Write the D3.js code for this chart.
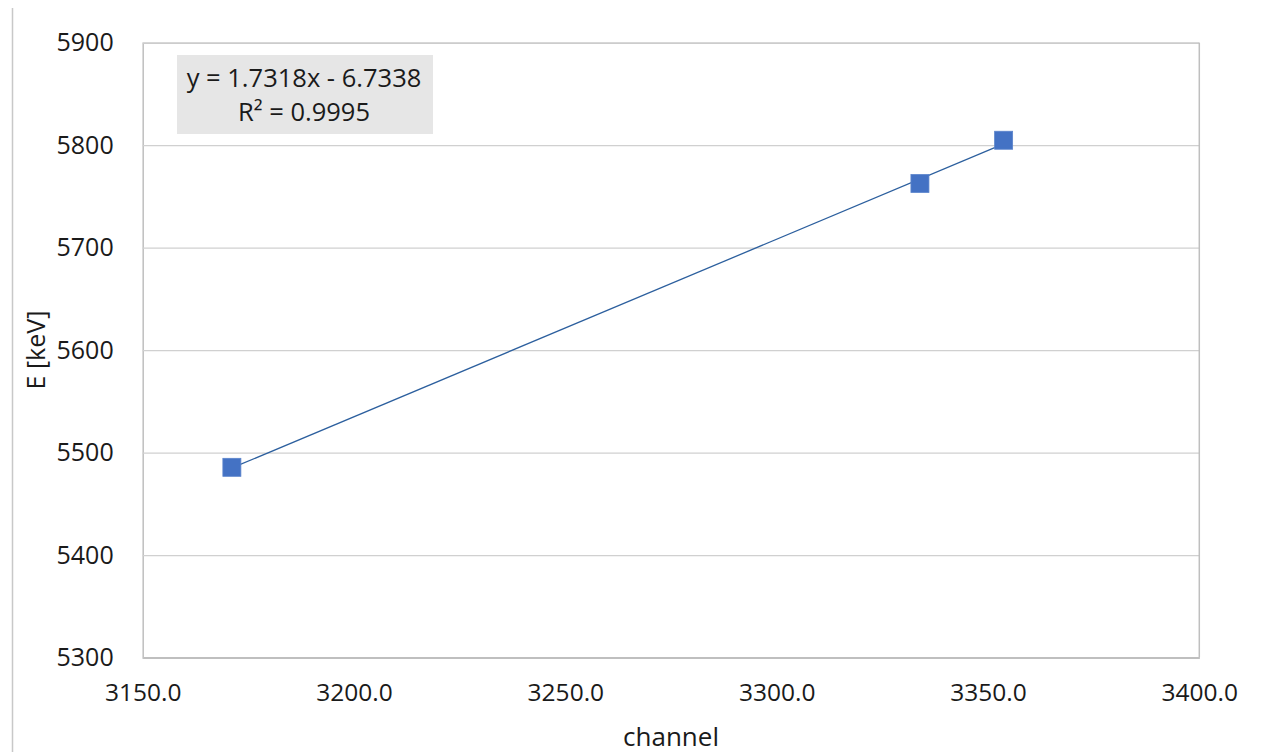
<!DOCTYPE html>
<html>
<head>
<meta charset="utf-8">
<script src="https://cdn.jsdelivr.net/npm/d3@7"></script>
<style>
  html, body { margin: 0; padding: 0; background: #fff; }
  svg { display: block; font-family: "Open Sans", "Noto Sans", sans-serif; }
</style>
</head>
<body>
<svg id="chart" width="1262" height="752"></svg>
<script>
// Calibration points: channel vs. alpha energy
const channels = [3171.1, 3333.9, 3353.7];
const energies = [5485.6, 5762.6, 5804.8];

// Linear trendline as reported
const slope = 1.7318;
const intercept = -6.7338;
const rSquared = "0.9995";

const xTicks = [3150, 3200, 3250, 3300, 3350, 3400];
const yTicks = [5300, 5400, 5500, 5600, 5700, 5800, 5900];

const svg = d3.select("#chart");
const plot = { left: 142.7, right: 1199.3, top: 42.7, bottom: 657.5 };
const textColor = "#1a1a1a";

const x = d3.scaleLinear().domain([3150, 3400]).range([plot.left, plot.right]);
const y = d3.scaleLinear().domain([5300, 5900]).range([plot.bottom, plot.top]);

// outer chart frame edge on the left
svg.append("line")
  .attr("x1", 12.5).attr("x2", 12.5).attr("y1", 8).attr("y2", 752)
  .attr("stroke", "#c8c8c8").attr("stroke-width", 1.5);

// horizontal gridlines and value labels
const yAxis = d3.axisLeft(y).tickValues(yTicks).tickSize(-(plot.right - plot.left))
  .tickFormat(d3.format("d")).tickPadding(29);
const gy = svg.append("g").attr("transform", `translate(${plot.left},0)`).call(yAxis);
gy.select(".domain").attr("stroke", "#bfbfbf").attr("stroke-width", 1.5);
gy.selectAll(".tick line").attr("stroke", "#d0d0d0").attr("stroke-width", 1.3);
gy.selectAll(".tick text").attr("font-size", 25).attr("fill", textColor)
  .attr("font-family", "'Open Sans', 'Noto Sans', sans-serif");

// right border of the plot area
svg.append("line")
  .attr("x1", plot.right).attr("x2", plot.right).attr("y1", plot.top).attr("y2", plot.bottom)
  .attr("stroke", "#bfbfbf").attr("stroke-width", 1.5);

// x axis
const xAxis = d3.axisBottom(x).tickValues(xTicks).tickSize(0)
  .tickFormat(d3.format(".1f")).tickPadding(26);
const gx = svg.append("g").attr("transform", `translate(0,${plot.bottom})`).call(xAxis);
gx.select(".domain").attr("stroke", "#bfbfbf").attr("stroke-width", 1.8);
gx.selectAll(".tick text").attr("font-size", 24.5).attr("fill", textColor)
  .attr("font-family", "'Open Sans', 'Noto Sans', sans-serif");

// trendline across the measured channel range
const xMin = d3.min(channels), xMax = d3.max(channels);
svg.append("line")
  .attr("x1", x(xMin)).attr("y1", y(slope * xMin + intercept))
  .attr("x2", x(xMax)).attr("y2", y(slope * xMax + intercept))
  .attr("stroke", "#2c5f9e").attr("stroke-width", 1.3);

// square markers
const size = 18;
svg.append("g").selectAll("rect")
  .data(channels.map((c, i) => ({ c, e: energies[i] })))
  .join("rect")
  .attr("x", d => x(d.c) - size / 2)
  .attr("y", d => y(d.e) - size / 2)
  .attr("width", size).attr("height", size)
  .attr("fill", "#4472c4").attr("stroke", "#5b84cc").attr("stroke-width", 0.8);

// trendline equation label
const box = svg.append("g");
box.append("rect").attr("x", 177).attr("y", 55).attr("width", 256).attr("height", 79).attr("fill", "#e6e6e6");
const sign = intercept < 0 ? "-" : "+";
box.append("text").attr("x", 304).attr("y", 87).attr("text-anchor", "middle")
  .attr("font-size", 25.5).attr("fill", textColor)
  .text(`y = ${slope.toFixed(4)}x ${sign} ${Math.abs(intercept).toFixed(4)}`);
box.append("text").attr("x", 304).attr("y", 121).attr("text-anchor", "middle")
  .attr("font-size", 25.5).attr("fill", textColor)
  .text(`R² = ${rSquared}`);

// axis titles
svg.append("text").attr("x", 671).attr("y", 746).attr("text-anchor", "middle")
  .attr("font-size", 26).attr("fill", textColor).text("channel");
svg.append("text")
  .attr("transform", `translate(45,${(plot.top + plot.bottom) / 2}) rotate(-90)`)
  .attr("text-anchor", "middle")
  .attr("font-size", 25).attr("fill", textColor).text("E [keV]");
</script>
</body>
</html>
